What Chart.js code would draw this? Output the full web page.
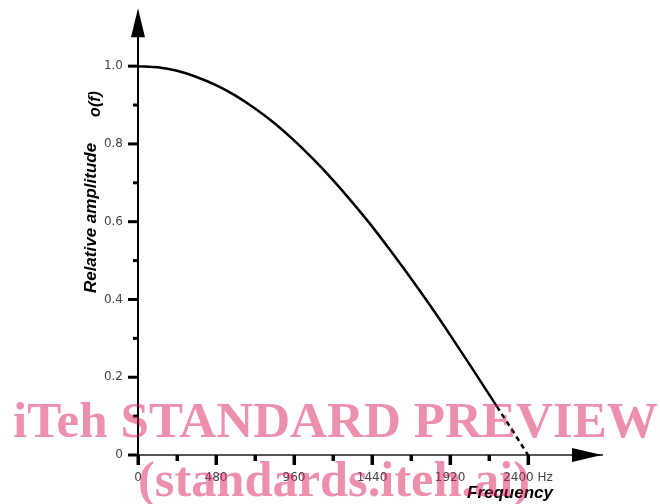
<!DOCTYPE html>
<html>
<head>
<meta charset="utf-8">
<script src="https://cdn.jsdelivr.net/npm/chart.js@4"></script>
<style>
  html, body { margin: 0; padding: 0; background: #fff; }
  #wrap { width: 660px; height: 504px; position: relative; }
</style>
</head>
<body>
<div id="wrap"><canvas id="c" width="660" height="504"></canvas></div>
<script>
// Frequency response of the shaping filter (relative amplitude vs frequency, Hz)
const freqSolid = [0, 120, 240, 360, 480, 600, 720, 840, 960, 1080, 1200, 1320, 1440, 1560, 1680, 1800, 1920, 2040, 2160, 2208];
const ampSolid  = [1.000, 0.997, 0.988, 0.972, 0.951, 0.924, 0.891, 0.853, 0.809, 0.760, 0.707, 0.649, 0.588, 0.522, 0.454, 0.383, 0.309, 0.233, 0.156, 0.125];
const freqDashed = [2208, 2304, 2400];
const ampDashed  = [0.125, 0.063, 0.000];

const xTicks = [0, 480, 960, 1440, 1920, 2400];
const xTickLabels = ['0', '480', '960', '1440', '1920', '2400 Hz'];
const xMinorTicks = [240, 720, 1200, 1680, 2160];
const yTicks = [0, 0.2, 0.4, 0.6, 0.8, 1.0];
const yTickLabels = ['0', '0.2', '0.4', '0.6', '0.8', '1.0'];
const yMinorTicks = [0.1, 0.3, 0.5, 0.7, 0.9];
const yAxisEnd = 1.149;   // where the vertical axis arrow ends

const xTitle = 'Frequency';
const yTitle = 'Relative amplitude';
const yTitleFn = 'o(f)';
const watermark1 = 'iTeh STANDARD PREVIEW';
const watermark2 = '(standards.iteh.ai)';

const toPoints = (xs, ys) => xs.map((x, i) => ({ x: x, y: ys[i] }));

// tick marks, arrowheads and axis titles
const axisDecor = {
  id: 'axisDecor',
  afterDraw(chart) {
    const ctx = chart.ctx;
    const xs = chart.scales.x, ys = chart.scales.y;
    const x0 = xs.getPixelForValue(0);
    const y0 = ys.getPixelForValue(0);
    ctx.save();
    ctx.fillStyle = '#000';
    // y ticks
    yTicks.forEach(v => { const p = ys.getPixelForValue(v); ctx.fillRect(x0 - 10, p - 1.5, 10, 3); });
    yMinorTicks.forEach(v => { const p = ys.getPixelForValue(v); ctx.fillRect(x0 - 5, p - 1.5, 5, 3); });
    // x ticks
    xTicks.forEach(v => { const p = xs.getPixelForValue(v); ctx.fillRect(p - 1.5, y0, 3.5, 10); });
    xMinorTicks.forEach(v => { const p = xs.getPixelForValue(v); ctx.fillRect(p - 1.5, y0, 3.5, 6); });
    // vertical axis extended up to its arrow
    const top = ys.getPixelForValue(yAxisEnd);
    ctx.fillRect(x0 - 1, top + 10, 2, ys.top - top);
    ctx.beginPath();
    ctx.moveTo(x0, top);
    ctx.lineTo(x0 - 7, top + 29);
    ctx.lineTo(x0 + 7, top + 29);
    ctx.closePath();
    ctx.fill();
    const right = xs.getPixelForValue(xs.max);
    ctx.beginPath();
    ctx.moveTo(right, y0);
    ctx.lineTo(right - 30, y0 - 7);
    ctx.lineTo(right - 30, y0 + 7);
    ctx.closePath();
    ctx.fill();
    // titles
    ctx.fillStyle = '#000';
    ctx.font = 'italic bold 17px "Liberation Sans", Arial, sans-serif';
    ctx.textAlign = 'center';
    ctx.textBaseline = 'alphabetic';
    ctx.fillText(xTitle, 510, 498);
    ctx.translate(96, 218);
    ctx.rotate(-Math.PI / 2);
    ctx.fillText(yTitle, 0, 0);
    ctx.font = 'italic bold 16px "Liberation Sans", Arial, sans-serif';
    ctx.fillText(yTitleFn, 114, 4);
    ctx.restore();

    // overprinted notice
    ctx.save();
    ctx.fillStyle = 'rgba(215, 22, 82, 0.48)';
    ctx.font = 'bold 51px "Liberation Serif", "Times New Roman", serif';
    ctx.textBaseline = 'alphabetic';
    ctx.textAlign = 'left';
    const w1 = ctx.measureText(watermark1).width;
    ctx.save();
    ctx.translate(13, 437);
    ctx.scale(645 / w1, 1);
    ctx.fillText(watermark1, 0, 0);
    ctx.restore();
    const w2 = ctx.measureText(watermark2).width;
    ctx.save();
    ctx.translate(138, 496);
    ctx.scale(392 / w2, 1);
    ctx.fillText(watermark2, 0, 0);
    ctx.restore();
    ctx.restore();
  }
};

new Chart(document.getElementById('c'), {
  type: 'line',
  data: {
    datasets: [
      {
        data: toPoints(freqSolid, ampSolid),
        borderColor: '#000',
        borderWidth: 2.5,
        pointRadius: 0,
        cubicInterpolationMode: 'monotone',
        fill: false
      },
      {
        data: toPoints(freqDashed, ampDashed),
        borderColor: '#000',
        borderWidth: 2.5,
        borderDash: [5, 4],
        pointRadius: 0,
        cubicInterpolationMode: 'monotone',
        fill: false
      }
    ]
  },
  options: {
    responsive: false,
    animation: false,
    devicePixelRatio: 1,
    layout: { padding: { left: 0, top: 8, right: 58, bottom: 0 } },
    plugins: { legend: { display: false }, tooltip: { enabled: false } },
    scales: {
      x: {
        type: 'linear',
        min: 0,
        max: 2855,
        grid: { display: false, drawTicks: false },
        border: { display: true, color: '#555', width: 2 },
        afterBuildTicks: s => { s.ticks = xTicks.map(v => ({ value: v })); },
        afterFit: s => { s.height = 49; },
        ticks: {
          autoSkip: false,
          maxRotation: 0,
          padding: 16,
          color: '#444',
          font: { family: '"DejaVu Sans", sans-serif', size: 12 },
          callback: (v, i) => xTickLabels[i]
        }
      },
      y: {
        type: 'linear',
        min: 0,
        max: 1.113,
        grid: { display: false, drawTicks: false },
        border: { display: true, color: '#000', width: 2 },
        afterBuildTicks: s => { s.ticks = yTicks.map(v => ({ value: v })); },
        afterFit: s => { s.width = 138; },
        ticks: {
          autoSkip: false,
          padding: 15,
          color: '#444',
          font: { family: '"DejaVu Sans", sans-serif', size: 12 },
          callback: (v, i) => yTickLabels[i]
        }
      }
    }
  },
  plugins: [axisDecor]
});
</script>
</body>
</html>
